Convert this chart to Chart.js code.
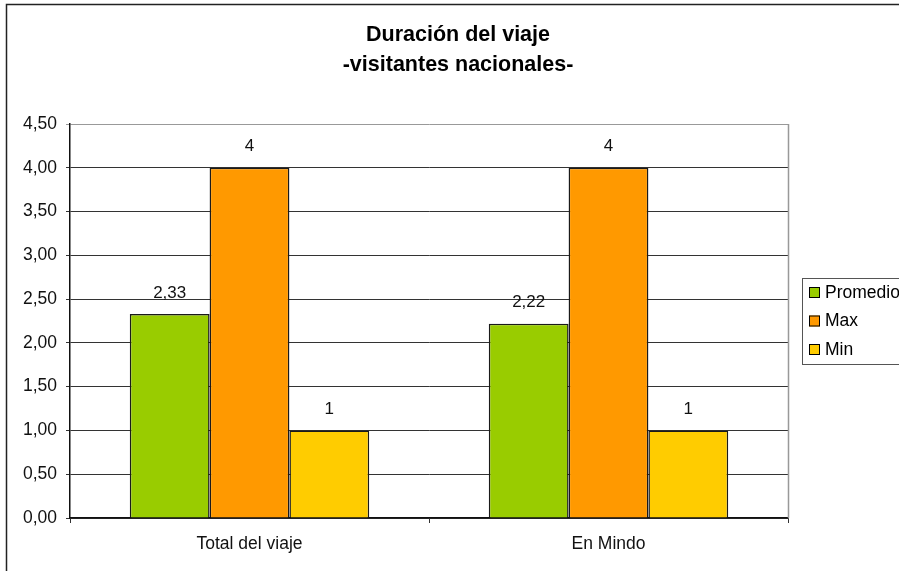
<!DOCTYPE html>
<html>
<head>
<meta charset="utf-8">
<script src="https://cdn.jsdelivr.net/npm/chart.js@4"></script>
<style>
body{margin:0;background:#fff;}
canvas{display:block;}
</style>
</head>
<body>
<canvas id="chart" width="899" height="571"></canvas>
<script>
let categories = ["Total del viaje", "En Mindo"];
let promedio = [2.33, 2.22];
let maxVals = [4, 4];
let minVals = [1, 1];
let seriesNames = ["Promedio", "Max", "Min"];
let seriesColors = ["#9c0", "#f90", "#fc0"];
let titleLines = ["Duración del viaje", "-visitantes nacionales-"];

let font = "'Liberation Sans', Arial, sans-serif";

function fmt(v){
return v.toFixed(2).replace(".", ",");
}

function labelText(v){
// whole numbers show without decimals, like in the original
if(Number.isInteger(v)) return String(v);
return fmt(v);
}

let extras = {
id: "extras",
beforeDraw(chart){
let ctx = chart.ctx;
ctx.save();
ctx.fillStyle = "#fff";
ctx.fillRect(0, 0, chart.width, chart.height);
// outer frame
ctx.strokeStyle = "#222";
ctx.lineWidth = 1.5;
ctx.strokeRect(6.5, 4.5, chart.width + 20, chart.height + 20);
ctx.restore();
},
afterDraw(chart){
let ctx = chart.ctx;
let area = chart.chartArea;
ctx.save();

// right border of plot
ctx.strokeStyle = "#999";
ctx.lineWidth = 1.5;
ctx.beginPath();
ctx.moveTo(area.right + 0.5, area.top);
ctx.lineTo(area.right + 0.5, area.bottom);
ctx.stroke();

// title
ctx.fillStyle = "#000";
ctx.font = "bold 21.5px " + font;
ctx.textAlign = "center";
ctx.textBaseline = "middle";
ctx.fillText(titleLines[0], 458, 35);
ctx.fillText(titleLines[1], 458, 65);

// value labels
ctx.font = "17px " + font;
ctx.fillStyle = "#111";
chart.data.datasets.forEach((ds, i) => {
chart.getDatasetMeta(i).data.forEach((bar, j) => {
ctx.fillText(labelText(ds.data[j]), bar.x, bar.y - 21);
});
});

// legend
ctx.lineWidth = 1;
ctx.strokeStyle = "#555";
ctx.strokeRect(802.5, 278.5, 120, 86);
ctx.textAlign = "left";
ctx.font = "17.5px " + font;
chart.data.datasets.forEach((ds, i) => {
let y = 292 + i * 28.5;
ctx.fillStyle = ds.backgroundColor;
ctx.fillRect(809, y - 5, 11, 11);
ctx.strokeStyle = "#000";
ctx.strokeRect(809.5, y - 4.5, 10, 10);
ctx.fillStyle = "#000";
ctx.fillText(ds.label, 825, y + 1);
});

ctx.restore();
}
};

new Chart(document.getElementById("chart"), {
type: "bar",
data: {
labels: categories,
datasets: [
{label: seriesNames[0], data: promedio, backgroundColor: seriesColors[0]},
{label: seriesNames[1], data: maxVals, backgroundColor: seriesColors[1]},
{label: seriesNames[2], data: minVals, backgroundColor: seriesColors[2]}
].map(d => Object.assign(d, {
borderColor: "#1a1a1a",
borderWidth: 1.5,
categoryPercentage: 0.667,
barPercentage: 1
}))
},
options: {
responsive: false,
animation: false,
devicePixelRatio: 1,
layout: {padding: {top: 124, right: 111, left: 0, bottom: 0}},
plugins: {
legend: {display: false},
title: {display: false},
tooltip: {enabled: false}
},
scales: {
x: {
afterFit(s){ s.height = 53; },
grid: {offset: true, drawOnChartArea: false, tickLength: 5, color: "#333"},
border: {color: "#111", width: 1.5},
ticks: {color: "#111", padding: 11, font: {family: font, size: 17.5}}
},
y: {
min: 0,
max: 4.5,
afterFit(s){ s.width = 70; },
grid: {
tickLength: 4,
color: c => c.tick && c.tick.value === 4.5 ? "#999" : "#333"
},
border: {color: "#111", width: 1.5},
ticks: {
stepSize: 0.5,
color: "#111",
padding: 9,
font: {family: font, size: 17.5},
callback: v => fmt(v)
}
}
}
},
plugins: [extras]
});
</script>
</body>
</html>
